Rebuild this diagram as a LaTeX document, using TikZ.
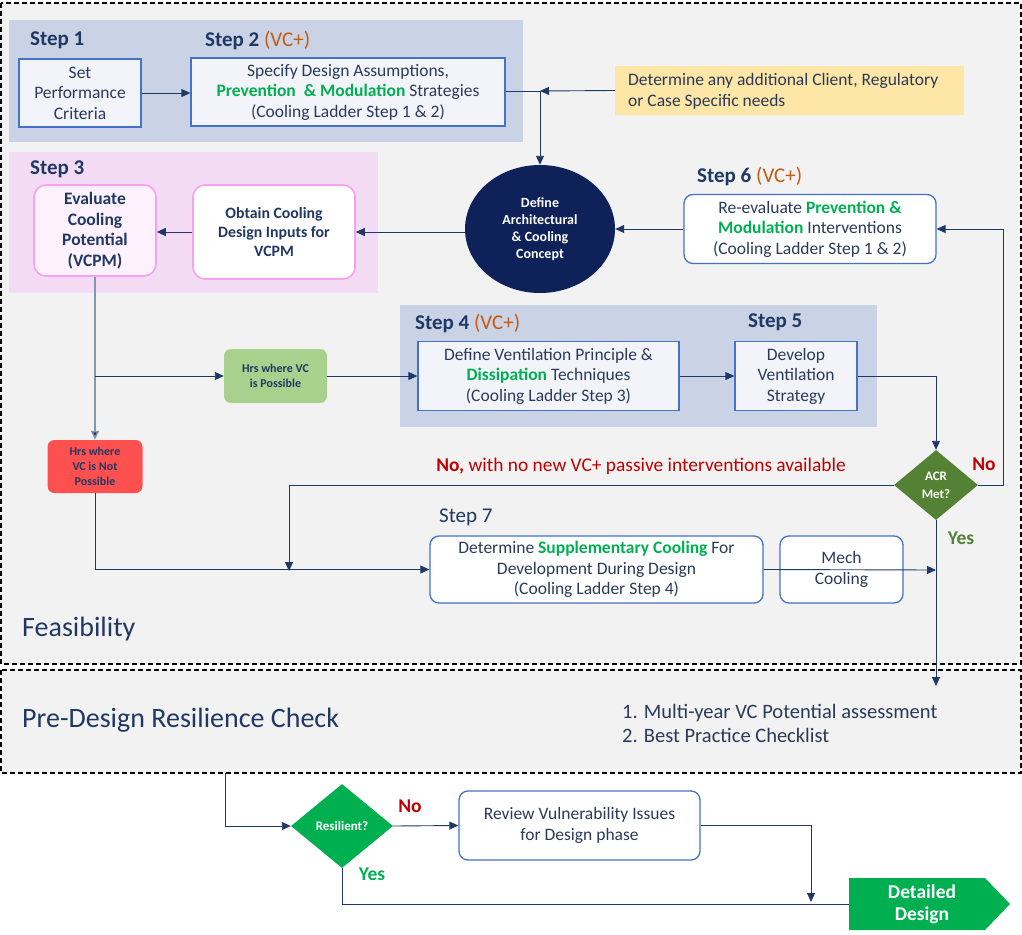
\documentclass[tikz,border=0pt]{standalone}
\usepackage{fontspec}
\setmainfont{Carlito}
\usetikzlibrary{arrows.meta,shapes.geometric}
\definecolor{navy}{HTML}{203864}
\definecolor{txt}{HTML}{2B3A5A}
\definecolor{grpblue}{HTML}{C9D3E5}
\definecolor{grppink}{HTML}{F4DBF4}
\definecolor{boxblue}{HTML}{4472C4}
\definecolor{boxfill}{HTML}{F2F4FA}
\definecolor{pinkline}{HTML}{F7A1F3}
\definecolor{pinkfill}{HTML}{FCF1FC}
\definecolor{vcorange}{HTML}{C55A11}
\definecolor{gtxt}{HTML}{00B050}
\definecolor{rtxt}{HTML}{C00000}
\definecolor{dkgreen}{HTML}{548235}
\definecolor{hrsgreen}{HTML}{A9D18E}
\definecolor{hrsred}{HTML}{FF5050}
\definecolor{circfill}{HTML}{0E2158}
\definecolor{yel}{HTML}{FDE6A6}
\definecolor{panel}{HTML}{F2F2F2}
\definecolor{greyline}{HTML}{8497B0}
\newcommand{\fsz}[2]{\fontsize{#1}{#2}\selectfont}
\tikzset{
  bx/.style={draw=boxblue, line width=1.3, fill=boxfill, align=center, inner sep=0pt, font=\fsz{17.5}{20.5}, text=txt},
  rbx/.style={bx, rounded corners=9, fill=white},
  pbx/.style={draw=pinkline, line width=1.6, rounded corners=12, align=center, inner sep=0pt, text=navy},
  hrs/.style={rounded corners=7, draw=none, align=center, inner sep=0pt, text=navy, font=\fsz{12}{15}\bfseries},
  lbl/.style={anchor=west, inner sep=0pt, text=navy, font=\fsz{21}{24}\bfseries},
  arr/.style={-{Triangle[length=9pt,width=8pt]}, draw=navy, line width=0.9pt},
  ln/.style={draw=navy, line width=0.9pt},
  dashbox/.style={draw=black, line width=1.2pt, dash pattern=on 5pt off 3pt, fill=panel},
  dia/.style={diamond, draw=none, inner sep=0pt, align=center, text=white, font=\fsz{13}{18}\bfseries},
  yn/.style={inner sep=0pt, font=\fsz{19.5}{22}\bfseries},
}
\begin{document}
\begin{tikzpicture}[x=1pt,y=-1pt]
\path[use as bounding box, fill=white] (0,0) rectangle (1022,934);
% panels
\draw[dashbox] (1,3) rectangle (1021,664);
\draw[dashbox] (1,670) rectangle (1021,773);
% groups
\fill[grpblue] (9,20) rectangle (523,142);
\fill[grppink] (9,152) rectangle (378,293);
\fill[grpblue] (400,305) rectangle (877,427);
% step labels
\node[lbl] (l1) at (30,40) {Step 1};
\node[lbl] (l2) at (205,40) {Step 2 {\mdseries\color{vcorange}(VC+)}};
\node[lbl] (l3) at (30,169) {Step 3};
\node[lbl] (l6) at (697,176) {Step 6 {\mdseries\color{vcorange}(VC+)}};
\node[lbl] (l4) at (415,323) {Step 4 {\mdseries\color{vcorange}(VC+)}};
\node[lbl] (l5) at (748,322) {Step 5};
\node[lbl, font=\fsz{21}{24}] (l7) at (439,517) {Step 7};
% boxes
\node[bx, minimum width=122, minimum height=68] (s1) at (80,93) {Set\\Performance\\Criteria};
\node[bx, minimum width=314, minimum height=68] (s2) at (348,92) {Specify Design Assumptions,\\{\bfseries\color{gtxt}Prevention \ \& Modulation} Strategies\\(Cooling Ladder Step 1 \& 2)};
\node[fill=yel, minimum width=349, minimum height=49, inner sep=0pt] (yel) at (789.5,90.5) {};
\node[anchor=west, align=left, inner sep=0pt, text=txt, font=\fsz{17.5}{21}] (yt) at (628,91) {Determine any additional Client, Regulatory\\or Case Specific needs};
\node[ellipse, fill=circfill, minimum width=150, minimum height=128, inner sep=0pt, align=center, text=white, font=\fsz{14}{17}\bfseries] (circ) at (540,229) {Define\\Architectural\\\& Cooling\\Concept};
\node[rbx, minimum width=252, minimum height=69] (s6) at (810,229) {Re-evaluate {\bfseries\color{gtxt}Prevention \&}\\{\bfseries\color{gtxt}Modulation} Interventions\\(Cooling Ladder Step 1 \& 2)};
\node[pbx, fill=pinkfill, minimum width=122, minimum height=91, font=\fsz{17.5}{20.5}\bfseries] (ev) at (95,230.5) {Evaluate\\Cooling\\Potential\\(VCPM)};
\node[pbx, fill=white, minimum width=162, minimum height=94, font=\fsz{15.8}{19}\bfseries] (ob) at (274,232) {Obtain Cooling\\Design Inputs for\\VCPM};
\node[hrs, fill=hrsgreen, minimum width=103, minimum height=54] (grn) at (275.5,376) {Hrs where VC\\is Possible};
\node[hrs, fill=hrsred, minimum width=95, minimum height=53] (red) at (95,466.5) {Hrs where\\VC is Not\\Possible};
\node[bx, minimum width=261, minimum height=69] (s4) at (548.5,376) {Define Ventilation Principle \&\\{\bfseries\color{gtxt}Dissipation} Techniques\\(Cooling Ladder Step 3)};
\node[bx, minimum width=122, minimum height=69] (s5) at (796,376) {Develop\\Ventilation\\Strategy};
\node[dia, fill=dkgreen, minimum width=84, minimum height=70] (acr) at (936,485) {ACR\\Met?};
\node[rbx, minimum width=333, minimum height=67] (s7) at (596.5,569.5) {Determine {\bfseries\color{gtxt}Supplementary Cooling} For\\Development During Design\\(Cooling Ladder Step 4)};
\node[rbx, minimum width=123, minimum height=67] (mech) at (841.5,569.5) {Mech\\Cooling};
\node[dia, fill=gtxt, minimum width=102, minimum height=84] (res) at (342,826) {Resilient?};
\node[rbx, minimum width=241, minimum height=69] (rev) at (579.5,825.5) {Review Vulnerability Issues\\for Design phase};
\fill[gtxt] (849,878) -- (985,878) -- (1010,904) -- (985,930) -- (849,930) -- cycle;
\node[minimum width=146, minimum height=52, inner sep=0pt, align=center, text=white, font=\fsz{19.5}{22}\bfseries] (dd) at (922,904) {Detailed\\Design};
% free texts
\node[anchor=west, inner sep=0pt, text=navy, font=\fsz{28}{30}] (feas) at (22,629) {Feasibility};
\node[anchor=west, inner sep=0pt, text=navy, font=\fsz{28}{30}] (pre) at (22,720) {Pre-Design Resilience Check};
\node[anchor=west, align=left, inner sep=0pt, text=txt, font=\fsz{20.5}{24}] (list) at (622,723) {1. Multi-year VC Potential assessment\\2. Best Practice Checklist};
\node[inner sep=0pt, text=rtxt, font=\fsz{19.4}{22}] (nomsg) at (641,466) {{\bfseries No,} with no new VC+ passive interventions available};
\node[yn, text=rtxt] (no1) at (984,464) {No};
\node[yn, text=dkgreen] (yes1) at (961,538) {Yes};
\node[yn, text=rtxt] (no2) at (410,806) {No};
\node[yn, text=gtxt] (yes2) at (372,874) {Yes};
% coordinates
\coordinate (j1) at (540,91);
\coordinate (b1) at (95,376);
\coordinate (rx) at (1003,485);
\coordinate (nl) at (289,571);
\coordinate (m1) at (936,570);
\coordinate (m2) at (936,686);
\coordinate (p1) at (225,773);
\coordinate (q1) at (811,902);
% connectors
\draw[arr] (s1.east) -- (s2.west |- s1.east);
\draw[ln] (s2.east |- j1) -- (j1);
\draw[arr] (yel.west) -- (j1);
\draw[arr] (j1) -- (circ.north);
\draw[arr] (s6.west) -- (circ.east);
\draw[arr] (circ.west |- ob.east) -- (ob.east);
\draw[arr] (ob.west) -- (ev.east |- ob.west);
\draw[greyline, line width=1.5pt] (ev.south) -- (b1);
\draw[arr, draw=greyline, line width=1.5pt, -{Triangle[length=9pt,width=8pt,fill=navy]}] (b1) -- (red.north);
\draw[arr] (b1) -- (grn.west);
\draw[arr] (grn.east) -- (s4.west);
\draw[arr] (s4.east) -- (s5.west);
\draw[arr] (s5.east) -| (acr.north);
\draw[arr] (acr.east) -- (rx) |- (s6.east);
\draw[arr] (acr.west) -| (nl);
\draw[arr] (red.south) |- (s7.west);
\draw[arr] (s7.east) -- (m1);
\draw[arr] (acr.south) -- (m2);
\draw[arr] (p1) |- (res.west);
\draw[arr] (res.east) -- (rev.west);
\draw[arr] (rev.east) -| (q1);
\draw[ln] (res.south) |- (dd.west);
\end{tikzpicture}
\end{document}
